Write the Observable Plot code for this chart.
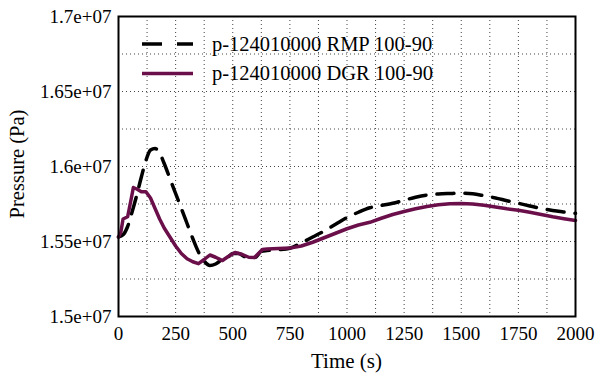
<!DOCTYPE html>
<html>
<head>
<meta charset="utf-8">
<script src="https://cdn.jsdelivr.net/npm/d3@7"></script>
<script src="https://cdn.jsdelivr.net/npm/@observablehq/plot@0.6"></script>
<style>
  html, body { margin: 0; padding: 0; background: #fff; }
  #chart svg { display: block; }
</style>
</head>
<body>
<div id="chart"></div>
<script>
// Series names
const seriesNames = ["p-124010000 RMP 100-90", "p-124010000 DGR 100-90"];

// RMP (dashed black) — time (s) and pressure (Pa)
const rmpTime = [0, 20, 40, 60, 80, 100, 120, 140, 160, 180, 200, 225, 250, 275, 300, 325, 350, 375, 400, 425, 450, 475, 500, 525, 550, 575, 600, 625, 650, 700, 750, 800, 850, 900, 950, 1000, 1050, 1100, 1150, 1200, 1250, 1300, 1350, 1400, 1450, 1500, 1550, 1600, 1650, 1700, 1750, 1800, 1850, 1900, 1950, 2000];
const rmpPressure = [15530000, 15545000, 15600000, 15700000, 15810000, 15930000, 16040000, 16110000, 16120000, 16090000, 16020000, 15920000, 15820000, 15720000, 15620000, 15520000, 15430000, 15370000, 15340000, 15350000, 15375000, 15390000, 15420000, 15420000, 15400000, 15390000, 15395000, 15435000, 15440000, 15445000, 15455000, 15490000, 15530000, 15570000, 15615000, 15660000, 15695000, 15725000, 15740000, 15755000, 15775000, 15795000, 15810000, 15817000, 15820000, 15822000, 15818000, 15805000, 15790000, 15772000, 15755000, 15737000, 15720000, 15707000, 15697000, 15688000];

// DGR (solid purple)
const dgrTime = [0, 10, 20, 40, 55, 65, 80, 100, 120, 140, 160, 180, 200, 225, 250, 275, 300, 325, 350, 375, 400, 425, 455, 480, 510, 540, 570, 595, 630, 650, 700, 750, 800, 850, 900, 950, 1000, 1050, 1100, 1150, 1200, 1250, 1300, 1350, 1400, 1450, 1500, 1550, 1600, 1650, 1700, 1750, 1800, 1850, 1900, 1950, 2000];
const dgrPressure = [15530000, 15560000, 15650000, 15665000, 15780000, 15860000, 15850000, 15832000, 15832000, 15790000, 15720000, 15650000, 15590000, 15530000, 15470000, 15420000, 15385000, 15365000, 15352000, 15380000, 15410000, 15395000, 15373000, 15400000, 15427000, 15415000, 15395000, 15393000, 15447000, 15450000, 15453000, 15456000, 15470000, 15495000, 15525000, 15555000, 15585000, 15610000, 15628000, 15655000, 15680000, 15700000, 15718000, 15733000, 15745000, 15752000, 15754000, 15750000, 15742000, 15730000, 15718000, 15708000, 15695000, 15680000, 15665000, 15652000, 15640000];

// Axis ticks
const xTicks = [0, 250, 500, 750, 1000, 1250, 1500, 1750, 2000];
const xGrid = [125, 250, 375, 500, 625, 750, 875, 1000, 1125, 1250, 1375, 1500, 1625, 1750, 1875];
const yTicks = [15000000, 15500000, 16000000, 16500000, 17000000];
const yGrid = [15250000, 15500000, 15750000, 16000000, 16250000, 16500000, 16750000];

const colors = ["#000000", "#6b0f4b"];

const rmp = rmpTime.map((t, i) => ({t, p: rmpPressure[i]}));
const dgr = dgrTime.map((t, i) => ({t, p: dgrPressure[i]}));

const fmtY = d => d3.format(".3~f")(d / 1e7) + "e+07";

const W = 598, H = 376;
const mL = 118, mR = 23, mT = 16, mB = 60;
const FONT = "'Liberation Serif', 'Times New Roman', serif";

const plot = Plot.plot({
  width: W,
  height: H,
  marginLeft: mL,
  marginRight: mR,
  marginTop: mT,
  marginBottom: mB,
  style: {fontFamily: FONT, fontSize: "19px", color: "#000", background: "#fff"},
  x: {domain: [0, 2000]},
  y: {domain: [15000000, 17000000]},
  marks: [
    Plot.ruleX(xGrid, {stroke: "#444", strokeWidth: 1, strokeDasharray: "1,3"}),
    Plot.ruleY(yGrid, {stroke: "#444", strokeWidth: 1, strokeDasharray: "1,3"}),
    Plot.axisX({ticks: xTicks, tickSize: 0, tickPadding: 10, tickFormat: d => String(d), label: null, fontSize: 19}),
    Plot.axisY({ticks: yTicks, tickSize: 0, tickPadding: 7, tickFormat: fmtY, label: null, fontSize: 19}),
    Plot.line(rmp, {x: "t", y: "p", stroke: colors[0], strokeWidth: 3.5, strokeDasharray: "17,11", curve: "monotone-x"}),
    Plot.line(dgr, {x: "t", y: "p", stroke: colors[1], strokeWidth: 3.5, curve: "linear"}),
    Plot.frame({stroke: "black", strokeWidth: 2})
  ]
});

const svg = d3.select(plot);
// Axis titles
svg.append("text")
  .attr("x", (mL + W - mR) / 2)
  .attr("y", 368)
  .attr("text-anchor", "middle")
  .attr("font-family", FONT)
  .attr("font-size", 21)
  .attr("fill", "#000")
  .text("Time (s)");
svg.append("text")
  .attr("transform", "translate(24,164) rotate(-90)")
  .attr("text-anchor", "middle")
  .attr("font-family", FONT)
  .attr("font-size", 20.5)
  .attr("fill", "#000")
  .text("Pressure (Pa)");

// Legend
const leg = svg.append("g");
seriesNames.forEach((name, i) => {
  const y = 44 + i * 29.5;
  leg.append("line")
    .attr("x1", 142).attr("x2", 193).attr("y1", y).attr("y2", y)
    .attr("stroke", colors[i]).attr("stroke-width", 3.5)
    .attr("stroke-dasharray", i === 0 ? "20,15" : null);
  leg.append("text")
    .attr("x", 212).attr("y", y).attr("dy", "0.33em")
    .attr("text-anchor", "start")
    .attr("font-family", FONT)
    .attr("font-size", 20.5).attr("fill", "#000")
    .text(name);
});

document.getElementById("chart").appendChild(plot);
</script>
</body>
</html>
